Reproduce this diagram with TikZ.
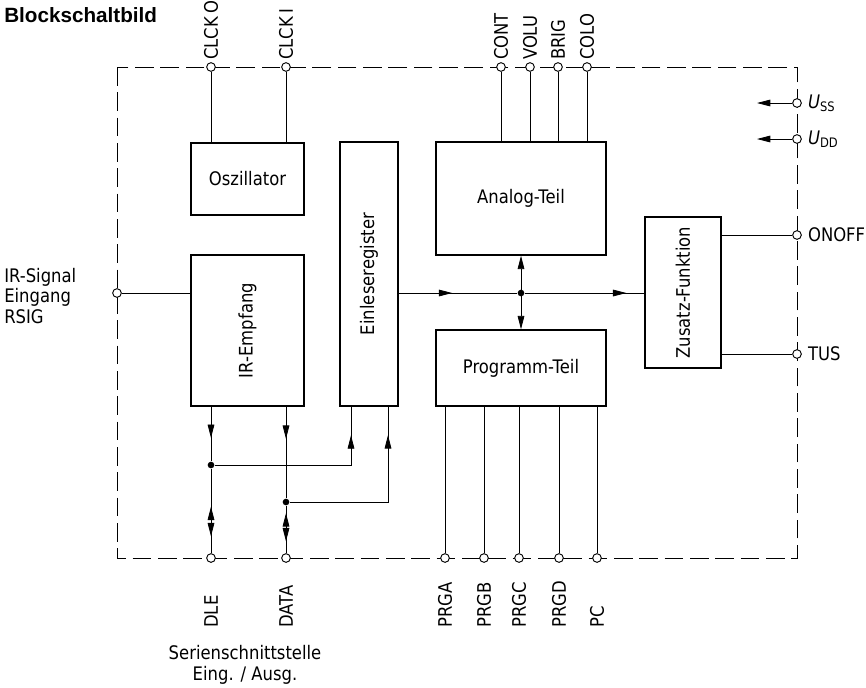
\documentclass[tikz,border=0pt]{standalone}
\usepackage{fontspec}
\usetikzlibrary{arrows.meta,decorations.markings}
\newfontfamily\dinfont[FakeStretch=0.88]{DejaVu Sans}
\newfontfamily\headfont{Liberation Sans}

\tikzset{
  >={Triangle[length=10pt,width=5pt]},
  frame/.style={line width=0.6pt,dash pattern=on 14pt off 5pt},
  wire/.style={line width=0.6pt},
  blk/.style={draw,line width=1.1pt,inner sep=0pt,font=\dinfont\fontsize{14}{16}\selectfont},
  lab/.style={font=\dinfont\fontsize{14}{15.5}\selectfont,inner sep=1.5pt},
  rlab/.style={lab,anchor=west,xshift=3pt},
  port/.style={circle,draw,fill=white,line width=0.7pt,inner sep=0pt,minimum size=6.5pt},
  jdot/.style={circle,fill,inner sep=0pt,minimum size=5pt},
  midarrow/.style={postaction={decorate},decoration={markings,mark=at position #1 with {\arrow{>}}}},
  dblarrow/.style 2 args={postaction={decorate},decoration={markings,
    mark=at position #1 with {\arrowreversed{>}},mark=at position #2 with {\arrow{>}}}},
}

\begin{document}
\begin{tikzpicture}[x=0.75pt,y=-0.75pt]
\useasboundingbox (0,0) rectangle (866,687);

\node[anchor=base west,inner sep=0pt,font=\headfont\bfseries\fontsize{15.5}{18}\selectfont] (title) at (4,22) {Blockschaltbild};

% chip outline
\draw[frame] (117,67) rectangle (797,558);

% function blocks
\node[blk,minimum width=84.75pt,minimum height=54pt] (osc) at (247.5,179) {Oszillator};
\node[blk,minimum width=84.75pt,minimum height=113.25pt] (ire) at (247.5,330.5) {};
\node[lab,rotate=90] at (ire) {IR-Empfang};
\node[blk,minimum width=43.5pt,minimum height=198pt] (ein) at (369,274) {};
\node[lab,rotate=90] at (ein) {Einleseregister};
\node[blk,minimum width=127.5pt,minimum height=84.75pt] (ana) at (521,198.5) {Analog-Teil};
\node[blk,minimum width=127.5pt,minimum height=57pt] (prg) at (521,368) {Programm-Teil};
\node[blk,minimum width=57pt,minimum height=113.25pt] (zus) at (683,292.5) {};
\node[lab,rotate=90] at (zus) {Zusatz-Funktion};

% pins on top
\node[port] (clcko) at (211,67) {};
\node[port] (clcki) at (286,67) {};
\node[port] (cont) at (501,67) {};
\node[port] (volu) at (530,67) {};
\node[port] (brig) at (558,67) {};
\node[port] (colo) at (587,67) {};
\node[lab,rotate=90,anchor=west] at (clcko.north) {CLCK\,O};
\node[lab,rotate=90,anchor=west] at (clcki.north) {CLCK\,I};
\node[lab,rotate=90,anchor=west] at (cont.north) {CONT};
\node[lab,rotate=90,anchor=west] at (volu.north) {VOLU};
\node[lab,rotate=90,anchor=west] at (brig.north) {BRIG};
\node[lab,rotate=90,anchor=west] at (colo.north) {COLO};
\draw[wire] (clcko) -- (clcko |- osc.north);
\draw[wire] (clcki) -- (clcki |- osc.north);
\draw[wire] (cont) -- (cont |- ana.north);
\draw[wire] (volu) -- (volu |- ana.north);
\draw[wire] (brig) -- (brig |- ana.north);
\draw[wire] (colo) -- (colo |- ana.north);

% supply and right side pins
\node[port] (uss) at (797,103) {};
\node[port] (udd) at (797,139) {};
\node[port] (onoff) at (797,235) {};
\node[port] (tus) at (797,354) {};
\coordinate (ussend) at (757,103);
\coordinate (uddend) at (757,139);
\draw[wire,->] (uss) -- (ussend);
\draw[wire,->] (udd) -- (uddend);
\node[rlab] at (uss.east) {\textit{U}\textsubscript{SS}};
\node[rlab] at (udd.east) {\textit{U}\textsubscript{DD}};
\node[rlab] at (onoff.east) {ONOFF};
\node[rlab] at (tus.east) {TUS};
\draw[wire] (zus.east |- onoff) -- (onoff);
\draw[wire] (zus.east |- tus) -- (tus);

% IR input
\node[port] (rsig) at (117,293) {};
\node[lab,anchor=west,align=left,inner sep=0pt] at (4,296) {IR-Signal\\Eingang\\RSIG};
\draw[wire] (rsig) -- (ire.west |- rsig);

% internal bus
\node[jdot] (jn) at (521,293) {};
\draw[wire,midarrow=0.45] (ein.east |- jn) -- (jn);
\draw[wire,midarrow=0.85] (jn) -- (zus.west |- jn);
\draw[wire,<->] (ana.south) -- (prg.north);

% serial interface
\node[port] (dle) at (211,558) {};
\node[port] (data) at (286,558) {};
\node[jdot] (dledot) at (211,465) {};
\node[jdot] (datadot) at (286,502) {};
\coordinate (einA) at (351,406);
\coordinate (einB) at (388,406);
\draw[wire,midarrow=0.57] (ire.south -| dle) -- (dledot);
\draw[wire,midarrow=0.35] (ire.south -| data) -- (datadot);
\draw[wire,midarrow=0.85] (dledot) -| (einA);
\draw[wire,midarrow=0.85] (datadot) -| (einB);
\draw[wire,dblarrow={0.45}{0.8}] (dledot) -- (dle);
\draw[wire,dblarrow={0.16}{0.75}] (datadot) -- (data);
\node[lab,rotate=90,anchor=west] at (211,630) {DLE};
\node[lab,rotate=90,anchor=west] at (286,630) {DATA};
\node[lab,align=center,anchor=north,inner sep=0pt] at (245,645) {Serienschnittstelle\\Eing. / Ausg.};

% program pins
\node[port] (prga) at (445,558) {};
\node[port] (prgb) at (484,558) {};
\node[port] (prgc) at (519,558) {};
\node[port] (prgd) at (559,558) {};
\node[port] (pc) at (597,558) {};
\draw[wire] (prg.south -| prga) -- (prga);
\draw[wire] (prg.south -| prgb) -- (prgb);
\draw[wire] (prg.south -| prgc) -- (prgc);
\draw[wire] (prg.south -| prgd) -- (prgd);
\draw[wire] (prg.south -| pc) -- (pc);
\node[lab,rotate=90,anchor=west] at (445,630) {PRGA};
\node[lab,rotate=90,anchor=west] at (484,630) {PRGB};
\node[lab,rotate=90,anchor=west] at (519,630) {PRGC};
\node[lab,rotate=90,anchor=west] at (559,630) {PRGD};
\node[lab,rotate=90,anchor=west] at (597,630) {PC};

\end{tikzpicture}
\end{document}
